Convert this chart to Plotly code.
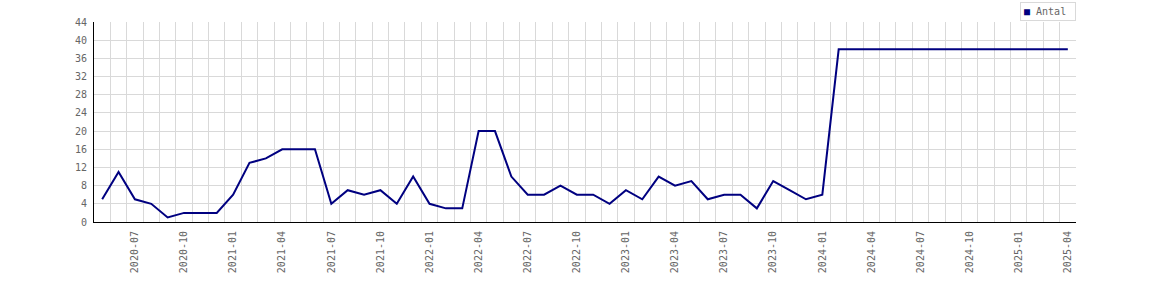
import pandas as pd
import plotly.graph_objects as go

months = [d.strftime("%Y-%m") for d in pd.date_range("2020-05-01", periods=60, freq="MS")]
antal = [5, 11, 5, 4, 1, 2, 2, 2, 6, 13, 14, 16, 16, 16, 4, 7, 6, 7, 4, 10,
         4, 3, 3, 20, 20, 10, 6, 6, 8, 6, 6, 4, 7, 5, 10, 8, 9, 5, 6, 6,
         3, 9, 7, 5, 6, 38, 38, 38, 38, 38, 38, 38, 38, 38, 38, 38, 38, 38, 38, 38]
tick_labels = ["2020-07", "2020-10", "2021-01", "2021-04", "2021-07", "2021-10",
               "2022-01", "2022-04", "2022-07", "2022-10", "2023-01", "2023-04",
               "2023-07", "2023-10", "2024-01", "2024-04", "2024-07", "2024-10",
               "2025-01", "2025-04"]
y_ticks = list(range(0, 45, 4))
series_name = "Antal"

idx = list(range(len(months)))
tickvals = [months.index(t) for t in tick_labels]

FONT = "DejaVu Sans Mono"
GRID = "#d9d9d9"
TXT = "#666666"
LINE = "#000080"

fig = go.Figure()
fig.add_trace(go.Scatter(x=idx, y=antal, mode="lines", name=series_name,
                         line=dict(color=LINE, width=2), showlegend=False,
                         customdata=months, hovertemplate="%{customdata}: %{y}<extra></extra>"))

fig.update_layout(
    width=1170, height=300,
    margin=dict(l=94, r=94, t=22, b=78, autoexpand=False),
    paper_bgcolor="white", plot_bgcolor="white",
    font=dict(family=FONT, size=10, color=TXT),
    showlegend=False,
    annotations=[dict(
        xref="paper", yref="paper", x=1, y=1, xanchor="right", yanchor="bottom",
        yshift=1,
        text=f'<span style="color:{LINE}">■</span> {series_name}&nbsp;',
        showarrow=False, font=dict(family=FONT, size=10, color=TXT),
        bordercolor=GRID, borderwidth=1, borderpad=3, bgcolor="white",
    )],
)
fig.update_xaxes(
    range=[-0.5, len(months) - 0.5],
    tickmode="array", tickvals=tickvals, ticktext=tick_labels,
    tickangle=-90, showgrid=False, zeroline=False,
    showline=True, linecolor="black", linewidth=1,
    ticks="", ticklabelstandoff=4,
    minor=dict(tick0=-0.5, dtick=1, showgrid=True, gridcolor=GRID, gridwidth=1, ticks=""),
)
fig.update_yaxes(
    range=[0, 44], tickmode="array", tickvals=y_ticks,
    showgrid=True, gridcolor=GRID, gridwidth=1, zeroline=False,
    showline=True, linecolor="black", linewidth=1, ticks="", ticklabelstandoff=4,
)

fig.write_html("out.html")
